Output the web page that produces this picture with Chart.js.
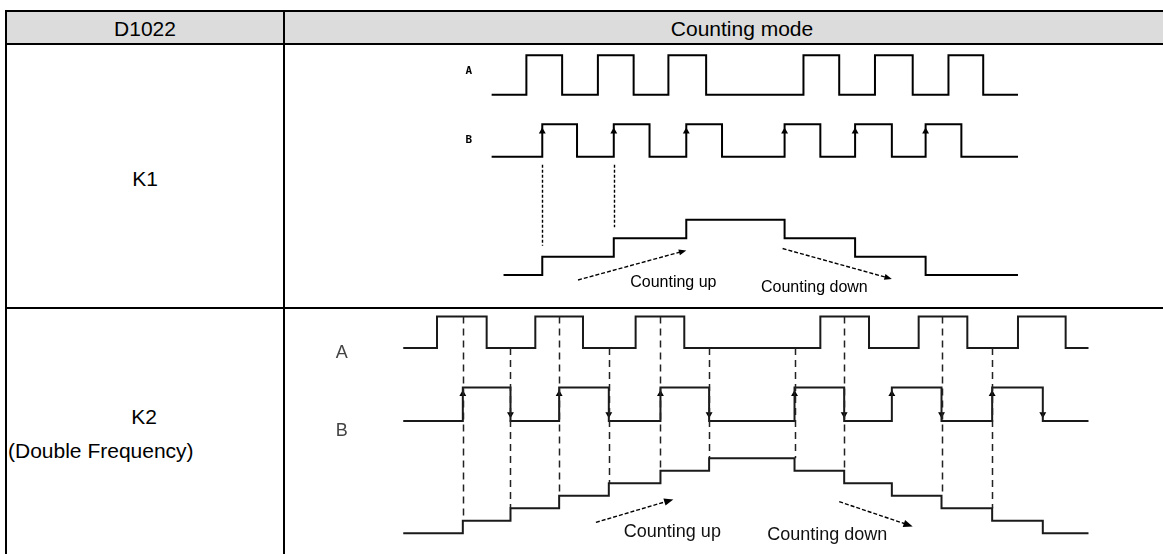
<!DOCTYPE html>
<html>
<head>
<meta charset="utf-8">
<script src="https://cdn.jsdelivr.net/npm/chart.js@4.4.0/dist/chart.umd.min.js"></script>
<style>
html,body{margin:0;padding:0;background:#fff;}
body{width:1163px;height:554px;overflow:hidden;position:relative;font-family:"Liberation Sans",Arial,sans-serif;color:#000;}
.ln{position:absolute;background:#000;}
.hdr{position:absolute;left:5px;top:10px;width:1200px;height:34px;background:#dcdcdc;}
.txt{position:absolute;white-space:nowrap;line-height:1;transform:translate(-50%,-50%);}
#c{position:absolute;left:0;top:0;}
</style>
</head>
<body>
<div class="hdr"></div>
<div class="ln" style="left:5px;top:10px;width:1200px;height:2px"></div>
<div class="ln" style="left:5px;top:43px;width:1200px;height:2px"></div>
<div class="ln" style="left:5px;top:307px;width:1200px;height:2px"></div>
<div class="ln" style="left:5px;top:10px;width:2px;height:560px"></div>
<div class="ln" style="left:283px;top:10px;width:2px;height:560px"></div>

<div class="txt" id="h1" style="left:145px;top:28px;font-size:21px">D1022</div>
<div class="txt" id="h2" style="left:742px;top:28px;font-size:21px">Counting mode</div>
<div class="txt" id="r1" style="left:145px;top:178px;font-size:21px">K1</div>
<div class="txt" id="r2a" style="left:144px;top:416px;font-size:21px">K2</div>
<div class="txt" id="r2b" style="left:8px;top:450px;font-size:21px;transform:translate(0,-50%)">(Double Frequency)</div>

<canvas id="c" width="1163" height="554"></canvas>

<script>
// ---------- DATA (time in arbitrary units, levels) ----------
const rowLabels = ['K1', 'K2 (Double Frequency)'];
const signalNames = ['A', 'B'];
const arrowLabels = ['Counting up', 'Counting down'];

// K1 row
const k1TimeA = [0, 35, 71, 107, 143, 178, 216, 314, 350, 386, 424, 460, 495, 530];
const k1LevelA = [0, 1, 0, 1, 0, 1, 0, 1, 0, 1, 0, 1, 0, 0];
const k1TimeB = [0, 51, 86, 123, 159, 196, 232, 295, 331, 366, 403, 437, 473, 530];
const k1LevelB = [0, 1, 0, 1, 0, 1, 0, 1, 0, 1, 0, 1, 0, 0];
const k1TimeCount = [12, 51, 123, 196, 295, 366, 437, 530];
const k1LevelCount = [0, 1, 2, 3, 2, 1, 0, 0];
const k1GuideTimes = [51, 123];

// K2 row
const k2TimeA = [0, 34, 84, 133, 181, 234, 283, 420, 469, 519, 568, 619, 667, 690];
const k2LevelA = [0, 1, 0, 1, 0, 1, 0, 1, 0, 1, 0, 1, 0, 0];
const k2TimeB = [0, 60, 108, 157, 207, 259, 308, 394, 444, 492, 542, 593, 644, 690];
const k2LevelB = [0, 1, 0, 1, 0, 1, 0, 1, 0, 1, 0, 1, 0, 0];
const k2TimeCount = [0, 60, 108, 157, 207, 259, 308, 394, 444, 492, 542, 593, 644, 690];
const k2LevelCount = [0, 1, 2, 3, 4, 5, 6, 5, 4, 3, 2, 1, 0, 0];
const k2GuideTimes = [60, 108, 157, 207, 259, 308, 394, 444, 542, 593];

// ---------- LAYOUT (page geometry, kept apart from data) ----------
const W = 1163, H = 554;
function xAxis(originPx) { return { type: 'linear', axis: 'x', position: 'bottom', display: false, min: -originPx, max: W - originPx }; }
function yAxis(pxLow, pxHigh, vHigh) {
  const ppu = (pxLow - pxHigh) / vHigh;
  const max = pxLow / ppu;
  return { type: 'linear', axis: 'y', position: 'left', display: false, max: max, min: max - H / ppu };
}

function steps(times, levels) { return times.map((t, i) => ({ x: t, y: levels[i] })); }
function edges(times, levels, dir, v) {
  const out = [];
  for (let i = 1; i < times.length - 1; i++) {
    if (levels[i] !== levels[i - 1] && (levels[i] > levels[i - 1]) === (dir === 'up')) out.push({ x: times[i], y: v });
  }
  return out;
}
function levelAt(times, levels, t) {
  let l = levels[0];
  for (let i = 0; i < times.length; i++) { if (times[i] <= t) l = levels[i]; }
  return l;
}
function stepTop(times, levels, t) {
  const i = times.indexOf(t);
  return Math.max(levels[i], levels[i - 1]);
}

const lineDs = (data, xId, yId, color, width) => ({
  type: 'line', data: data, xAxisID: xId, yAxisID: yId, stepped: 'before',
  borderColor: color, borderWidth: width, pointRadius: 0, fill: false,
  borderJoinStyle: 'miter', borderCapStyle: 'butt', tension: 0
});
const headDs = (data, xId, yId, rot, r) => ({
  type: 'line', data: data, xAxisID: xId, yAxisID: yId, showLine: false,
  pointStyle: 'triangle', pointRadius: r, pointRotation: rot,
  pointBackgroundColor: '#000', pointBorderColor: '#000', pointBorderWidth: 0
});

// guide lines and counting arrows drawn through the scales
const guidePlugin = {
  id: 'guides',
  afterDatasetsDraw(chart) {
    const s = chart.scales, ctx = chart.ctx;
    ctx.save();
    // K1 dotted guides
    ctx.strokeStyle = '#000'; ctx.lineWidth = 1.4; ctx.setLineDash([3, 2]);
    k1GuideTimes.forEach(t => {
      const x = Math.round(s.xK1.getPixelForValue(t)) + 0.5;
      ctx.beginPath();
      ctx.moveTo(x, s.yB1.getPixelForValue(0) + 8);
      ctx.lineTo(x, s.yC1.getPixelForValue(stepTop(k1TimeCount, k1LevelCount, t)) - 11);
      ctx.stroke();
    });
    // K2 dashed guides
    ctx.strokeStyle = '#222'; ctx.lineWidth = 1.5; ctx.setLineDash([7, 5]);
    k2GuideTimes.forEach(t => {
      const x = Math.round(s.xK2.getPixelForValue(t)) + 0.5;
      ctx.beginPath();
      ctx.moveTo(x, s.yA2.getPixelForValue(levelAt(k2TimeA, k2LevelA, t)));
      ctx.lineTo(x, s.yC2.getPixelForValue(stepTop(k2TimeCount, k2LevelCount, t)));
      ctx.stroke();
    });
    // counting arrows
    const arrows = [
      ['xK1', 'yC1', 87, -0.27, 196, 1.34, 8],
      ['xK1', 'yC1', 293, 1.44, 403, -0.21, 8],
      ['xK2', 'yC2', 194, 0.87, 272, 2.71, 10],
      ['xK2', 'yC2', 439, 2.53, 513, 0.55, 10]
    ];
    arrows.forEach(a => {
      const x1 = s[a[0]].getPixelForValue(a[2]), y1 = s[a[1]].getPixelForValue(a[3]);
      const x2 = s[a[0]].getPixelForValue(a[4]), y2 = s[a[1]].getPixelForValue(a[5]);
      const ang = Math.atan2(y2 - y1, x2 - x1), hl = a[6];
      ctx.setLineDash([4, 2]); ctx.lineWidth = 1.4; ctx.strokeStyle = '#000';
      ctx.beginPath(); ctx.moveTo(x1, y1);
      ctx.lineTo(x2 - Math.cos(ang) * hl * 0.6, y2 - Math.sin(ang) * hl * 0.6); ctx.stroke();
      ctx.setLineDash([]); ctx.fillStyle = '#000';
      ctx.beginPath(); ctx.moveTo(x2, y2);
      ctx.lineTo(x2 - hl * Math.cos(ang - 0.38), y2 - hl * Math.sin(ang - 0.38));
      ctx.lineTo(x2 - hl * Math.cos(ang + 0.38), y2 - hl * Math.sin(ang + 0.38));
      ctx.closePath(); ctx.fill();
    });
    ctx.restore();
  }
};

const chart = new Chart(document.getElementById('c'), {
  type: 'line',
  data: {
    datasets: [
      lineDs(steps(k1TimeA, k1LevelA), 'xK1', 'yA1', '#000', 2),
      lineDs(steps(k1TimeB, k1LevelB), 'xK1', 'yB1', '#000', 2),
      lineDs(steps(k1TimeCount, k1LevelCount), 'xK1', 'yC1', '#000', 2),
      headDs(edges(k1TimeB, k1LevelB, 'up', 0.78), 'xK1', 'yB1', 0, 4),
      lineDs(steps(k2TimeA, k2LevelA), 'xK2', 'yA2', '#1a1a1a', 2),
      lineDs(steps(k2TimeB, k2LevelB), 'xK2', 'yB2', '#1a1a1a', 2),
      lineDs(steps(k2TimeCount, k2LevelCount), 'xK2', 'yC2', '#1a1a1a', 2),
      headDs(edges(k2TimeB, k2LevelB, 'up', 0.8), 'xK2', 'yB2', 0, 4),
      headDs(edges(k2TimeB, k2LevelB, 'down', 0.2), 'xK2', 'yB2', 180, 4)
    ]
  },
  options: {
    responsive: false, animation: false, events: [],
    layout: { padding: 0 },
    plugins: { legend: { display: false }, tooltip: { enabled: false } },
    scales: {
      xK1: xAxis(491), xK2: xAxis(402),
      yA1: yAxis(92, 52, 1), yB1: yAxis(155, 122, 1), yC1: yAxis(275, 219, 3),
      yA2: yAxis(349, 317, 1), yB2: yAxis(423, 389, 1), yC2: yAxis(537, 461, 6)
    }
  },
  plugins: [guidePlugin]
});

// text annotations placed through the chart scales
function addText(str, sx, sy, t, v, css) {
  const d = document.createElement('div');
  d.className = 'txt'; d.textContent = str; d.style.cssText += css;
  d.style.left = chart.scales[sx].getPixelForValue(t) + 'px';
  d.style.top = chart.scales[sy].getPixelForValue(v) + 'px';
  document.body.appendChild(d);
}
const smallLbl = 'font-family:"DejaVu Sans Mono",monospace;font-size:11px;font-weight:bold;';
addText(signalNames[0], 'xK1', 'yA1', -23, 0.62, smallLbl);
addText(signalNames[1], 'xK1', 'yB1', -23, 0.55, smallLbl);
const k1Lbl = 'font-size:16px;';
addText(arrowLabels[0], 'xK1', 'yC1', 183, -0.37, k1Lbl);
addText(arrowLabels[1], 'xK1', 'yC1', 325, -0.64, k1Lbl);
const k2Sig = 'font-size:18px;color:#444;';
addText(signalNames[0], 'xK2', 'yA2', -62, -0.12, k2Sig);
addText(signalNames[1], 'xK2', 'yB2', -62, -0.28, k2Sig);
const k2Lbl = 'font-size:18px;color:#111;';
addText(arrowLabels[0], 'xK2', 'yC2', 271, 0.16, k2Lbl);
addText(arrowLabels[1], 'xK2', 'yC2', 427, -0.08, k2Lbl);
</script>
</body>
</html>
